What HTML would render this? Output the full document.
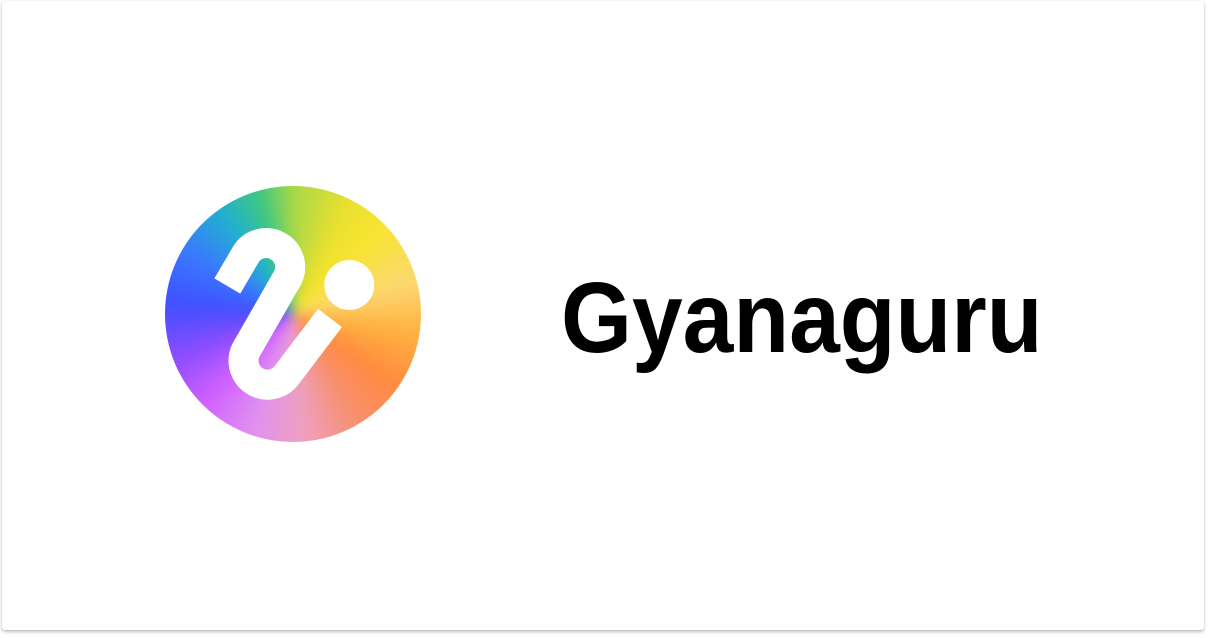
<!DOCTYPE html>
<html><head><meta charset="utf-8"><style>
html,body{margin:0;padding:0;background:#ffffff;width:1208px;height:638px;overflow:hidden}
.card{position:absolute;left:2px;top:1px;width:1202px;height:629px;background:#fff;border-radius:3px;box-shadow:0 2px 3px rgba(0,0,0,0.25),0 0 1px rgba(0,0,0,0.15)}
.logo{position:absolute;left:165px;top:186px;width:256px;height:256px;border-radius:50%;overflow:hidden}
.grad{position:absolute;left:-20px;top:-20px;width:296px;height:296px;border-radius:50%;
background:conic-gradient(from 0deg,#a8d848 0deg,#e8e030 25deg,#f8e430 45deg,#fcd870 75deg,#ffb040 100deg,#ff8a40 125deg,#f79070 150deg,#eea0c0 175deg,#e090f0 200deg,#d060ff 225deg,#8a4cff 250deg,#4050ff 275deg,#3a78ff 300deg,#20b0d0 325deg,#40c880 345deg,#a8d848 360deg);filter:blur(6px)}
.name{position:absolute;left:561px;top:258px;font-family:"Liberation Sans",sans-serif;font-weight:bold;font-size:100px;line-height:120px;color:#000;transform:scaleX(0.912);transform-origin:left top;white-space:nowrap}
</style></head><body>
<div class="card">
</div>
<div class="logo">
<div class="grad"></div>
<svg width="256" height="256" viewBox="165 186 256 256" style="position:absolute;left:0;top:0">
<path d="M227.3,286 L246.7,253 A24,24 0 0 1 288,277 L245.7,350.7 A24,24 0 0 0 287,374.7 L330,318" fill="none" stroke="#fff" stroke-width="30" stroke-linejoin="round"/>
<circle cx="349.3" cy="285" r="25" fill="#fff"/>
</svg>
</div>
<div class="name">Gyanaguru</div>
</body></html>
